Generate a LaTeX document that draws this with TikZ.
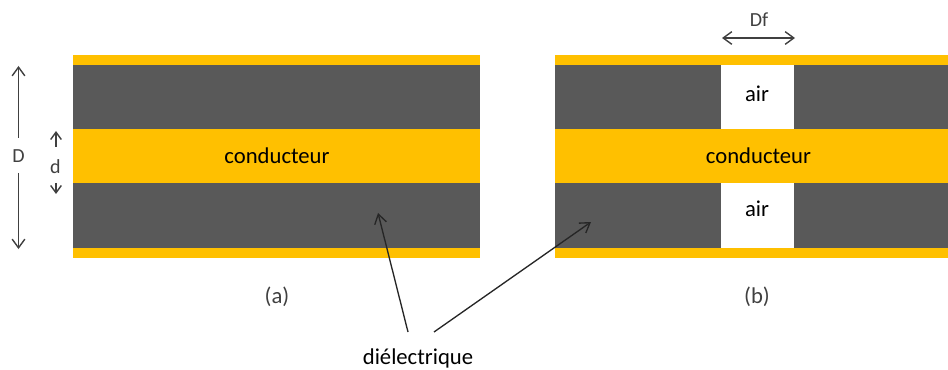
\documentclass[tikz,border=0pt]{standalone}
\usepackage{fontspec}
\setmainfont{Carlito}
\usetikzlibrary{arrows.meta}
\definecolor{gold}{HTML}{FFC000}
\definecolor{slab}{HTML}{595959}
\definecolor{ink}{HTML}{404040}
\tikzset{
  x=0.75pt,y=-0.75pt,
  goldband/.style={fill=gold,draw=none},
  darkband/.style={fill=slab,draw=none},
  airband/.style={fill=white,draw=none},
  barb/.style={Straight Barb[length=6.5pt,width=9.5pt,line width=1.05pt]},
  dim/.style={draw=ink,line width=1.05pt,-{Straight Barb[length=6.5pt,width=9.5pt,line width=1.05pt]}},
  dimsmall/.style={draw=ink,line width=1.05pt,-{Straight Barb[length=5.5pt,width=8pt,line width=1.05pt]}},
  dimboth/.style={draw=ink,line width=1.05pt,{Straight Barb[length=6.5pt,width=9.5pt,line width=1.05pt]}-{Straight Barb[length=6.5pt,width=9.5pt,line width=1.05pt]}},
  pointer/.style={draw=black!85,line width=1pt,-{Straight Barb[length=7pt,width=9pt,line width=1pt]}},
  lab/.style={inner sep=0pt,text=ink,font=\fontsize{15pt}{18pt}\selectfont},
  main/.style={inner sep=0pt,text=black,font=\fontsize{17pt}{20pt}\selectfont},
}
\begin{document}
\begin{tikzpicture}
\useasboundingbox (0,0) rectangle (948,370);
% plate (a)
\fill[goldband] (73,55) rectangle (480,258);
\fill[darkband] (73,65) rectangle (480,129);
\fill[darkband] (73,183) rectangle (480,248);
% plate (b)
\fill[goldband] (555,55) rectangle (948,258);
\fill[darkband] (555,65) rectangle (948,129);
\fill[darkband] (555,183) rectangle (948,248);
\fill[airband] (721,65) rectangle (794,129);
\fill[airband] (721,183) rectangle (794,248);
% texts
\node[main] (c1) at (277,156) {conducteur};
\node[main] (c2) at (758.5,156) {conducteur};
\node[main] (a1) at (757,94) {air};
\node[main] (a2) at (757,209) {air};
\node[lab] (bigD) at (18.5,156) {D};
\node[lab] (smalld) at (55.5,167) {d};
\node[lab] (df) at (759,20) {Df};
\node[main,text=ink] (la) at (277,296.5) {(a)};
\node[main,text=ink] (lb) at (757,296.5) {(b)};
\node[main] (diel) at (418,358.5) {diélectrique};
% dimension arrows
\coordinate (Dtop) at (18.5,66);
\coordinate (Dbot) at (18.5,249);
\coordinate (dtop) at (56,131);
\coordinate (dbot) at (56,194);
\coordinate (dfa) at (722,38);
\coordinate (dfb) at (795,38);
\coordinate (p1) at (378,213);
\coordinate (p2) at (591,222);
\coordinate (s1) at (408,332);
\coordinate (s2) at (434,332);
\draw[dim] (18.5,138) -- (Dtop);
\draw[dim] (18.5,173) -- (Dbot);
\draw[dimsmall] (56,147) -- (dtop);
\draw[dimsmall] (56,183) -- (dbot);
\draw[dimboth] (dfa) -- (dfb);
\draw[pointer] (s1) -- (p1);
\draw[pointer] (s2) -- (p2);
\end{tikzpicture}
\end{document}
